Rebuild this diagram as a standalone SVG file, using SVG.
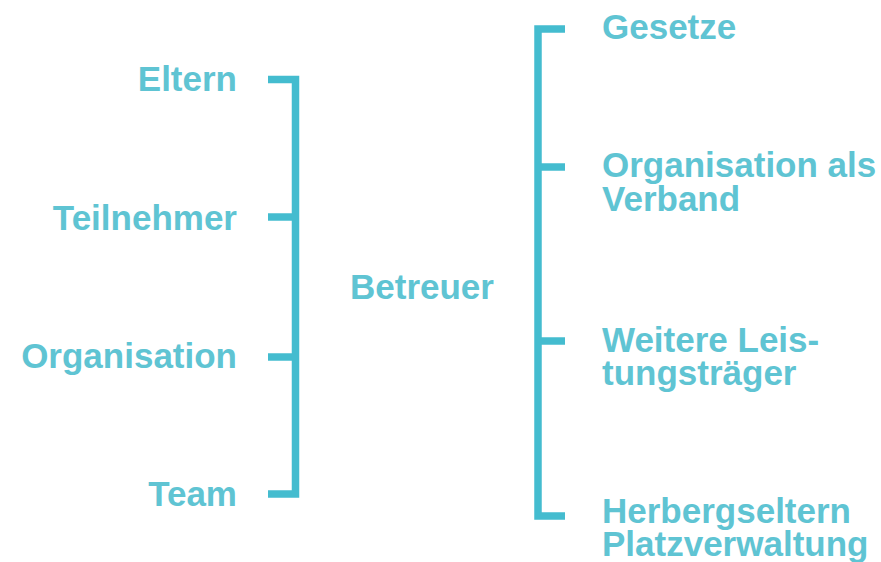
<svg xmlns="http://www.w3.org/2000/svg" width="881" height="562" viewBox="0 0 881 562">
<style>
  .t { font-family: "Liberation Sans", Arial, sans-serif; font-weight: bold; font-size: 35px; fill: #5fc4d3; }
  .l { fill: none; stroke: #44bccf; stroke-width: 7.5; stroke-linecap: butt; stroke-linejoin: miter; }
</style>
<rect width="881" height="562" fill="#ffffff"/>
<g id="connectors">
  <path class="l" d="M268,79.5 H295.5 V494 H268"/>
  <path class="l" d="M268,217 H295.5"/>
  <path class="l" d="M268,357 H295.5"/>
  <path class="l" d="M565,29 H538 V516 H565"/>
  <path class="l" d="M538,167 H565"/>
  <path class="l" d="M538,341 H565"/>
</g>
<g id="eltern"><text class="t" x="237" y="91" text-anchor="end">Eltern</text></g>
<g id="teilnehmer"><text class="t" x="237" y="230" text-anchor="end">Teilnehmer</text></g>
<g id="organisation"><text class="t" x="237" y="368" text-anchor="end">Organisation</text></g>
<g id="team"><text class="t" x="237" y="506" text-anchor="end">Team</text></g>
<g id="betreuer"><text class="t" x="350" y="299">Betreuer</text></g>
<g id="gesetze"><text class="t" x="602" y="39">Gesetze</text></g>
<g id="verband"><text class="t" x="602" y="177">Organisation als<tspan x="602" y="211">Verband</tspan></text></g>
<g id="leistungstraeger"><text class="t" x="602" y="352">Weitere Leis-<tspan x="602" y="385">tungsträger</tspan></text></g>
<g id="herbergseltern"><text class="t" x="602" y="523">Herbergseltern<tspan x="602" y="556">Platzverwaltung</tspan></text></g>
</svg>
